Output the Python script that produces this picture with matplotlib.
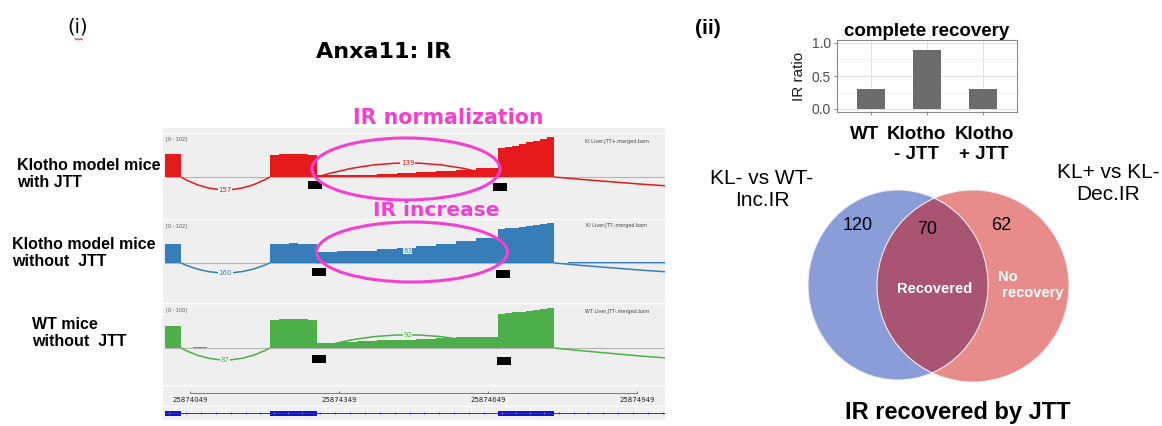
import numpy as np
import matplotlib
matplotlib.use('Agg')
import matplotlib.pyplot as plt
from matplotlib.patches import Ellipse, Rectangle, PathPatch
from matplotlib.path import Path

plt.rcParams['font.family'] = ['Liberation Sans', 'DejaVu Sans']

# ---------------- data ----------------
view_start, view_end = 25873999, 25875005
ruler_ticks = [25874049, 25874349, 25874649, 25874949]
exon_starts = [25873999, 25874210, 25874669]
exon_ends = [25874031, 25874305, 25874782]

cov_pos = [25873999, 25874031, 25874055, 25874083, 25874210, 25874229, 25874248,
           25874267, 25874286, 25874305, 25874345, 25874385, 25874425, 25874465,
           25874505, 25874545, 25874585, 25874625, 25874669, 25874683, 25874697,
           25874711, 25874725, 25874739, 25874753, 25874767, 25874782, 25874810,
           25875005]
red_cov = [57, 0, 0, 0, 54, 56, 58, 57, 55, 4, 5, 6, 8, 10, 12, 14, 17, 22,
           72, 75, 78, 82, 86, 90, 95, 100, 0, 0, 0]
blue_cov = [47, 0, 0, 0, 47, 48, 49, 48, 47, 27, 29, 31, 34, 37, 42, 48, 55, 62,
            85, 87, 88, 90, 92, 95, 98, 100, 0, 3, 0]
green_cov = [55, 0, 2, 0, 70, 72, 73, 72, 70, 13, 15, 17, 19, 21, 23, 25, 27, 28,
             85, 87, 89, 91, 93, 95, 98, 100, 0, 0, 0]

junc_start = [25874031, 25874305, 25874782]
junc_end = [25874210, 25874669, 25876600]
red_junc_depth = [-32, 35, -51]
blue_junc_depth = [-25, 30, -51]
green_junc_depth = [-30, 33, -58]
red_junc_count = ['157', '139', '']
blue_junc_count = ['160', '63', '']
green_junc_count = ['87', '92', '']

primer_left = [25874287, 25874295, 25874295]
primer_right = [25874659, 25874665, 25874667]
primer_left_y = [-10, -12, -18]
primer_right_y = [-15, -17, -23]

track_files = ['Kl Liver.JTT+.merged.bam', 'Kl Liver.JTT-.merged.bam', 'WT Liver.JTT-.merged.bam']
track_ranges = [102, 102, 100]
sample_labels = ['Klotho model mice\nwith JTT', 'Klotho model mice\nwithout  JTT', 'WT mice\nwithout  JTT']

bar_groups = ['WT', 'Klotho\n- JTT', 'Klotho\n+ JTT']
ir_ratio = [0.3, 0.9, 0.3]

venn_counts = [120, 70, 62]
venn_sets = ['KL- vs WT-\nInc.IR', 'KL+ vs KL-\nDec.IR']

# ---------------- figure ----------------
W, H = 1162, 426
fig = plt.figure(figsize=(W / 100, H / 100), dpi=100)


def px_axes(x0, y0, x1, y1, **kw):
    return fig.add_axes([x0 / W, 1 - y1 / H, (x1 - x0) / W, (y1 - y0) / H], **kw)


# background overlay (pixel coordinates)
ov = px_axes(0, 0, W, H)
ov.set_xlim(0, W)
ov.set_ylim(H, 0)
ov.axis('off')
ov.add_patch(Rectangle((163, 128), 502, 292, fc='#efefef', ec='none'))
for ysep in [133, 219, 303, 385, 406]:
    ov.plot([163, 665], [ysep, ysep], color='#fbfbfb', lw=1.0)

# titles / labels
ov.text(78, 27, '(i)', fontsize=14, family='DejaVu Sans', ha='center', va='center')
ov.plot([75, 76.5, 78, 79.5, 81, 82.5], [38.5, 40, 38.5, 40, 38.5, 40], color='#e03030', lw=0.7)
ov.text(384, 52, 'Anxa11: IR', fontsize=16, fontweight='bold', family='DejaVu Sans',
        ha='center', va='center')
label_pos = [(17, 174), (12, 253), (32, 333)]
for (lx, ly), lab in zip(label_pos, sample_labels):
    ov.text(lx, ly, lab, fontsize=11.5, fontweight='bold', ha='left', va='center',
            linespacing=1.1)

ov.text(708, 28, '(ii)', fontsize=15, fontweight='bold', ha='center', va='center')

# ---------------- genome browser tracks ----------------
track_colors = ['#e41a1c', '#377eb8', '#4daf4a']
track_boxes = [(133, 219, 177, 136), (219, 303, 263, 222), (303, 385, 348, 308)]
covs = [red_cov, blue_cov, green_cov]
depths = [red_junc_depth, blue_junc_depth, green_junc_depth]
counts = [red_junc_count, blue_junc_count, green_junc_count]

for i in range(3):
    y0, y1, base, full = track_boxes[i]
    ppr = (base - full) / track_ranges[i]
    ax = px_axes(165, y0, 665, y1)
    ax.set_facecolor('none')
    ax.axis('off')
    ax.set_xlim(view_start, view_end)
    ax.set_ylim(-(y1 - base) / ppr, (base - y0) / ppr)
    c = track_colors[i]
    ax.axhline(0, color='#b5b5b5', lw=0.8, zorder=1)
    ax.fill_between(cov_pos, 0, covs[i], step='post', color=c, lw=0, zorder=2)
    for s, e, d, lab in zip(junc_start, junc_end, depths[i], counts[i]):
        verts = [(s, 0), ((s + e) / 2, 2 * d), (e, 0)]
        ax.add_patch(PathPatch(Path(verts, [Path.MOVETO, Path.CURVE3, Path.CURVE3]),
                               fc='none', ec=c, lw=1.1, zorder=3))
        if lab:
            ax.text((s + e) / 2, d, lab, color=c, fontsize=5, family='DejaVu Sans',
                    ha='center', va='center', zorder=4,
                    bbox=dict(fc='#f2f2f2', ec='none', pad=0.3))
    ax.add_patch(Rectangle((primer_left[i], primer_left_y[i] - 20), 28, 20,
                           fc='black', ec='none', zorder=5))
    ax.add_patch(Rectangle((primer_right[i], primer_right_y[i] - 20), 28, 20,
                           fc='black', ec='none', zorder=5))

# ruler + gene model
axg = px_axes(165, 385, 665, 420)
axg.set_facecolor('none')
axg.axis('off')
axg.set_xlim(view_start, view_end)
axg.set_ylim(35, 0)
axg.plot([ruler_ticks[0], ruler_ticks[-1]], [8, 8], color='#666666', lw=0.6)
axg.vlines(ruler_ticks, 5.5, 8, color='#666666', lw=0.6)
for t in ruler_ticks:
    axg.text(t, 15, str(t), fontsize=5, family='DejaVu Sans', ha='center', va='center',
             color='#222222')
axg.plot([view_start, view_end], [28, 28], color='#2a2ae0', lw=0.7)
axg.vlines(np.arange(view_start + 12, view_end, 30), 26.8, 29.2, color='#2a2ae0', lw=0.6)
for s, e in zip(exon_starts, exon_ends):
    axg.add_patch(Rectangle((s, 25.5), e - s, 5, fc='#1414c0', ec='none'))
    axg.vlines(np.arange(s + 8, e - 4, 28), 27.3, 28.7, color='#9a9aff', lw=0.5)

# ---------------- bar chart ----------------
axb = px_axes(837, 39.7, 1017, 112.3)
xpos = np.arange(1, len(ir_ratio) + 1)
axb.bar(xpos, ir_ratio, width=0.5, color='#6c6c6c', zorder=3)
axb.set_xlim(0.4, 3.6)
axb.set_ylim(-0.05, 1.05)
axb.set_xticks(xpos)
axb.set_xticklabels([''] * len(xpos))
axb.set_yticks([0, 0.5, 1.0])
axb.set_yticklabels(['0.0', '0.5', '1.0'], fontsize=10, color='#4d4d4d')
axb.set_yticks([0.25, 0.75], minor=True)
axb.grid(True, which='major', color='#dedede', lw=0.7, zorder=0)
axb.grid(True, which='minor', axis='y', color='#ececec', lw=0.4, zorder=0)
axb.set_axisbelow(True)
for sp in axb.spines.values():
    sp.set_color('#8c8c8c')
    sp.set_linewidth(0.8)
axb.tick_params(axis='both', which='major', length=2.5, color='#8c8c8c', pad=2)
axb.tick_params(axis='y', which='minor', length=0)
axb.set_ylabel('IR ratio', fontsize=11, labelpad=4, color='#1a1a1a')
axb.set_title('complete recovery', fontsize=13.5, fontweight='bold', pad=3)

# ---------------- overlay on top ----------------
ov2 = px_axes(0, 0, W, H)
ov2.set_facecolor('none')
ov2.set_xlim(0, W)
ov2.set_ylim(H, 0)
ov2.axis('off')

# group labels of the bar chart (placed as in the figure)
group_label_x = [865, 916, 984]
for gx, lab in zip(group_label_x, bar_groups):
    ov2.text(gx, 126, lab, fontsize=13.5, fontweight='bold', ha='center', va='top',
             linespacing=1.2)

# Venn diagram
left_c = Ellipse((898, 285), 180, 190, fc='#8b9dd8', ec='none')
right_c = Ellipse((973, 286), 192, 192, fc='#e88b8b', ec='none')
ov2.add_patch(left_c)
ov2.add_patch(right_c)
inter = Ellipse((973, 286), 192, 192, fc='#a95473', ec='none')
ov2.add_patch(inter)
inter.set_clip_path(left_c)
ov2.add_patch(Ellipse((898, 285), 180, 190, fc='none', ec='#efefef', lw=0.8))
ov2.add_patch(Ellipse((973, 286), 192, 192, fc='none', ec='#efefef', lw=0.8))

ov2.text(858, 226, str(venn_counts[0]), fontsize=13, ha='center', va='center')
ov2.text(927, 229, str(venn_counts[1]), fontsize=13, ha='center', va='center')
ov2.text(1001, 226, str(venn_counts[2]), fontsize=13, ha='center', va='center')
ov2.text(935, 289, 'Recovered', fontsize=10.5, fontweight='bold', color='white',
         ha='center', va='center')
ov2.text(998, 285, 'No\n recovery', fontsize=10.5, fontweight='bold', color='white',
         ha='left', va='center', linespacing=1.15)
ov2.text(762, 190, venn_sets[0], fontsize=15, ha='center', va='center', linespacing=1.2)
ov2.text(1108, 184, venn_sets[1], fontsize=15, ha='center', va='center', linespacing=1.2)
ov2.text(958, 412, 'IR recovered by JTT', fontsize=17, fontweight='bold',
         ha='center', va='center')

# browser annotations
pink = '#f53fd0'
ov2.add_patch(Ellipse((406, 169), 188, 62, fc='none', ec=pink, lw=2.2))
ov2.add_patch(Ellipse((412, 252), 191, 60, fc='none', ec=pink, lw=2.2))
ov2.text(448, 118, 'IR normalization', fontsize=14.8, fontweight='bold', color=pink,
         family='DejaVu Sans', ha='center', va='center')
ov2.text(436, 211, 'IR increase', fontsize=14.5, fontweight='bold', color=pink,
         family='DejaVu Sans', ha='center', va='center')
scale_y = [139, 226, 310]
name_y = [141, 226, 312]
for i in range(3):
    ov2.text(166, scale_y[i], f'[0 - {track_ranges[i]}]', fontsize=3.5,
             family='DejaVu Sans', color='#555555', ha='left', va='center')
    ov2.text(617, name_y[i], track_files[i], fontsize=3.5, family='DejaVu Sans',
             color='#444444', ha='center', va='center')

fig.savefig('out.png', dpi=100)
